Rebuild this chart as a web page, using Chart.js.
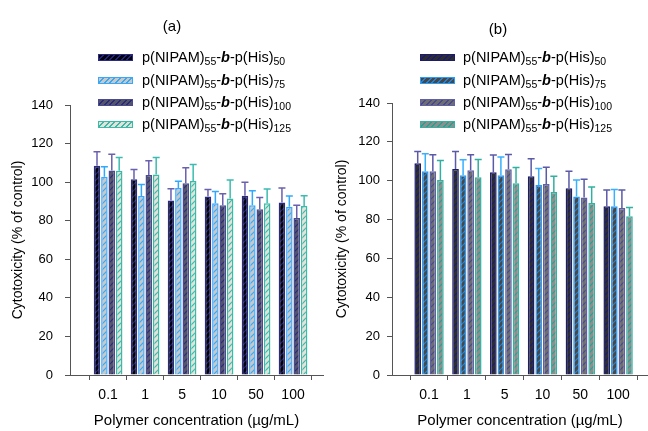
<!DOCTYPE html>
<html>
<head>
<meta charset="utf-8">
<script src="https://cdn.jsdelivr.net/npm/chart.js@4.4.0/dist/chart.umd.min.js"></script>
<style>
  html, body { margin: 0; padding: 0; background: #fff; }
  #wrap { position: relative; width: 648px; height: 431px; overflow: hidden;
          font-family: "Liberation Sans", Arial, sans-serif; color: #000; }
  canvas { position: absolute; top: 0; }
  #ca { left: 0; }
  #cb { left: 330px; }
  .ttl { position: absolute; font-size: 15px; transform: translate(-50%, -50%); }
  .row { position: absolute; height: 20px; line-height: 20px; white-space: nowrap; font-size: 14.5px; }
  .sw { position: absolute; width: 35px; height: 7px; box-sizing: border-box; border: 1.5px solid; top: 7px; }
  .tx { position: absolute; top: 0; }
  .row sub { font-size: 10.5px; vertical-align: -3px; line-height: 0; }
</style>
</head>
<body>
<div id="wrap">
  <canvas id="ca" width="330" height="431"></canvas>
  <canvas id="cb" width="318" height="431"></canvas>
  <div class="ttl" style="left:172px;top:25px">(a)</div>
  <div class="ttl" style="left:498px;top:28px">(b)</div>
  <div id="lega"></div>
  <div id="legb"></div>
</div>
<script>
// concentrations (µg/mL)
const CATS = ["0.1", "1", "5", "10", "50", "100"];
const DP = ["50", "75", "100", "125"];

// panel (a): mean cytotoxicity (% of control) and SD
const A50 = [108.5, 101.5, 90.5, 92.5, 93.0, 89.5];
const A75 = [102.8, 92.8, 97.0, 89.0, 88.0, 87.3];
const A100 = [106.0, 103.7, 99.4, 88.0, 86.0, 81.4];
const A125 = [105.9, 104.0, 100.6, 91.5, 89.0, 87.6];
const A50_SD = [7.3, 5.1, 6.1, 3.7, 7.0, 7.4];
const A75_SD = [5.2, 6.0, 3.4, 6.1, 7.6, 5.5];
const A100_SD = [8.5, 7.4, 8.1, 6.0, 6.0, 6.6];
const A125_SD = [6.9, 8.8, 8.6, 9.6, 7.4, 5.3];

// panel (b)
const B50 = [109.0, 106.0, 104.4, 102.3, 96.1, 86.9];
const B75 = [104.9, 102.8, 102.8, 97.8, 91.9, 86.9];
const B100 = [104.9, 105.4, 105.9, 98.3, 91.4, 86.0];
const B125 = [100.4, 101.8, 98.7, 94.2, 88.5, 81.7];
const B50_SD = [6.1, 9.0, 8.8, 9.0, 8.8, 8.3];
const B75_SD = [9.0, 8.0, 9.4, 8.5, 8.5, 8.6];
const B100_SD = [8.5, 8.0, 7.6, 8.6, 9.3, 9.2];
const B125_SD = [10.0, 9.1, 8.1, 8.1, 8.3, 4.5];

// fill, hatch, border, error-bar colour per series
const STY_A = [
  ["#03030f", "#24247a", "#2a2a80", "#6a60b0"],
  ["#c8c8c8", "#3aa8f0", "#38a8ff", "#30a8ff"],
  ["#55556a", "#2a2a78", "#4a4a90", "#6a60b0"],
  ["#e2e2da", "#3cb8a8", "#38bca8", "#3cbcb0"],
];
const STY_B = [
  ["#2e2e2e", "#1c1c6a", "#1c1c6a", "#5a5aa8"],
  ["#474747", "#2a80d0", "#2a9df4", "#38b0ff"],
  ["#6e6e6e", "#48488e", "#6060a8", "#5a5aa8"],
  ["#8e8e8e", "#2aa090", "#36b0a0", "#30b0a0"],
];

const hatch = (ctx, bg, fg) => {
  const c = document.createElement("canvas");
  c.width = c.height = 6;
  const x = c.getContext("2d");
  x.fillStyle = bg; x.fillRect(0, 0, 6, 6);
  x.strokeStyle = fg; x.lineWidth = 1.2;
  x.beginPath();
  x.moveTo(0, 6); x.lineTo(6, 0);
  x.moveTo(-1, 1); x.lineTo(1, -1);
  x.moveTo(5, 7); x.lineTo(7, 5);
  x.stroke();
  return ctx.createPattern(c, "repeat");
};

const seriesName = (d) => `p(NIPAM)<sub>55</sub>-<i><b>b</b></i>-p(His)<sub>${d}</sub>`;

const errorBars = {
  id: "errorBars",
  afterDatasetsDraw(chart) {
    const ctx = chart.ctx, y = chart.scales.y;
    chart.data.datasets.forEach((ds, di) => {
      chart.getDatasetMeta(di).data.forEach((bar, i) => {
        const top = y.getPixelForValue(ds.data[i].y + ds.sd[i]);
        ctx.save();
        ctx.strokeStyle = ds.errColor; ctx.lineWidth = 1.5;
        ctx.beginPath();
        ctx.moveTo(bar.x, bar.y); ctx.lineTo(bar.x, top);
        ctx.moveTo(bar.x - 3.5, top); ctx.lineTo(bar.x + 3.5, top);
        ctx.stroke();
        ctx.restore();
      });
    });
  },
};

const makeChart = (id, vals, sds, sty, cfg) => {
  const el = document.getElementById(id);
  const ctx = el.getContext("2d");
  const datasets = vals.map((v, k) => ({
    label: DP[k],
    data: v.map((y, i) => ({ x: i, y })),
    sd: sds[k],
    errColor: sty[k][3],
    backgroundColor: hatch(ctx, sty[k][0], sty[k][1]),
    borderColor: sty[k][2],
    borderWidth: 1.5,
    categoryPercentage: 0.8,
    barPercentage: 0.88,
  }));
  return new Chart(ctx, {
    type: "bar",
    data: { datasets },
    plugins: [errorBars],
    options: {
      responsive: false, animation: false,
      layout: { padding: { top: cfg.top, right: cfg.right, left: 0, bottom: 0 } },
      plugins: { legend: { display: false }, tooltip: { enabled: false } },
      scales: {
        x: {
          type: "linear", min: cfg.xmin, max: cfg.xmax, offset: false,
          afterBuildTicks: (s) => { s.ticks = CATS.map((c, i) => ({ value: i })); },
          afterFit: (s) => { s.height = 56; },
          ticks: { callback: (v) => CATS[v], font: { size: 14, family: "Liberation Sans" },
                   color: "#000", padding: 7, maxRotation: 0 },
          grid: { drawOnChartArea: false, tickLength: 5, color: "#555" },
          border: { color: "#555", width: 1 },
          title: { display: true, text: "Polymer concentration (\u00b5g/mL)", color: "#000",
                   font: { size: 15, family: "Liberation Sans" }, padding: { top: 0, bottom: 1 } },
        },
        y: {
          min: 0, max: 140,
          afterFit: (s) => { s.width = cfg.yw; },
          ticks: { stepSize: 20, font: { size: 13, family: "Liberation Sans" }, color: "#000",
                   padding: cfg.tpad },
          grid: { drawOnChartArea: false, tickLength: 5, color: "#555" },
          border: { color: "#555", width: 1 },
          title: { display: true, text: "Cytotoxicity (% of control)", color: "#000",
                   font: { size: 14, family: "Liberation Sans" }, padding: { top: cfg.ttop, bottom: 0 } },
        },
      },
    },
  });
};

const makeLegend = (id, sty, swLeft, txLeft) => {
  const box = document.getElementById(id);
  const rows = [47, 70, 92, 114];
  DP.forEach((d, k) => {
    const [bg, fg, bd] = sty[k];
    const r = document.createElement("div");
    r.className = "row";
    r.style.top = rows[k] + "px";
    r.style.left = "0px";
    r.innerHTML =
      `<span class="sw" style="left:${swLeft}px;border-color:${bd};` +
      `background:repeating-linear-gradient(135deg, ${bg} 0 2.5px, ${fg} 2.5px 4px)"></span>` +
      `<span class="tx" style="left:${txLeft}px">${seriesName(d)}</span>`;
    box.appendChild(r);
  });
};

makeChart("ca", [A50, A75, A100, A125], [A50_SD, A75_SD, A100_SD, A125_SD], STY_A,
  { top: 105, right: 7, xmin: -1.03, xmax: 5.81, yw: 70, tpad: 12, ttop: 10 });
makeChart("cb", [B50, B75, B100, B125], [B50_SD, B75_SD, B100_SD, B125_SD], STY_B,
  { top: 103, right: 0, xmin: -0.98, xmax: 5.79, yw: 62, tpad: 7, ttop: 4 });
makeLegend("lega", STY_A, 98, 142);
makeLegend("legb", STY_B, 420, 463);
</script>
</body>
</html>
